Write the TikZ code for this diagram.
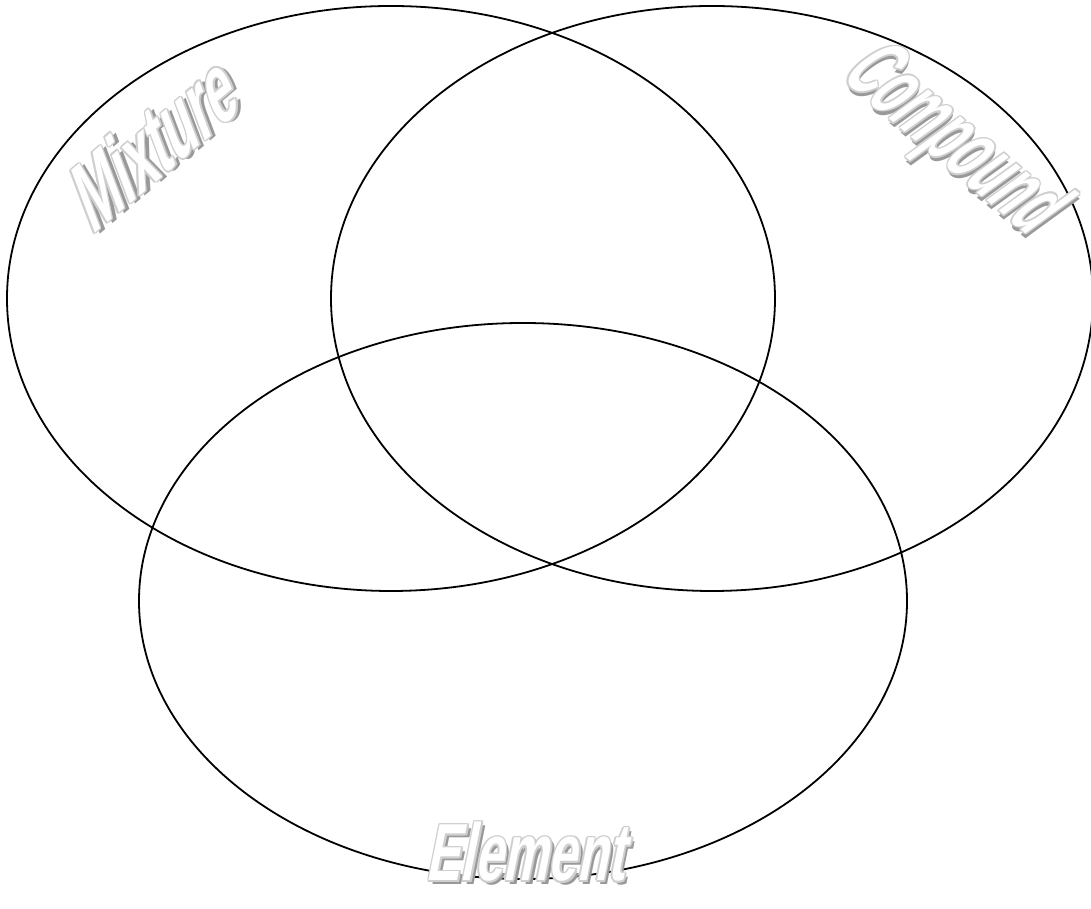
\documentclass[tikz,border=0pt]{standalone}
\usepackage{fontspec}
\newfontfamily\artfont{Liberation Sans}
\definecolor{shadowgray}{HTML}{999999}
\definecolor{outlinegray}{HTML}{CFCFCF}
\tikzset{
  venn/.style={draw=black, line width=1.8pt},
  wa/.style={transform shape, inner sep=0pt, font=\artfont\bfseries\fontsize{#1}{#1}\selectfont},
}
\newcommand\artlabel[7]{% name, position, angle, slant, xscale, size, text
  \begin{scope}[shift={#2}, rotate=#3]
    \node[wa=#6, xslant=#4, xscale=#5, text=shadowgray] at (3.5,-3.5) {#7};
    \foreach \dx/\dy in {1.6/0, -1.6/0, 0/1.6, 0/-1.6, 1.1/1.1, -1.1/1.1, 1.1/-1.1, -1.1/-1.1}
      \node[wa=#6, xslant=#4, xscale=#5, text=outlinegray] at (\dx,\dy) {#7};
    \node[wa=#6, xslant=#4, xscale=#5, text=white] (#1) at (0,0) {#7};
  \end{scope}}
\begin{document}
\begin{tikzpicture}[x=1pt, y=1pt]
  \useasboundingbox (0,0) rectangle (1091,909);
  \draw[venn] (391,610.5) ellipse [x radius=384, y radius=292.5];
  \draw[venn] (712,610.5) ellipse [x radius=381, y radius=292.5];
  \draw[venn] (523,308) ellipse [x radius=384, y radius=278];
  \artlabel{mixture}{(155,769)}{40}{0.35}{0.6}{92}{Mixture}
  \artlabel{compound}{(953,767)}{-40}{0.25}{0.52}{90}{Compound}
  \artlabel{element}{(531,57)}{0}{0.2}{0.63}{81}{Element}
\end{tikzpicture}
\end{document}
